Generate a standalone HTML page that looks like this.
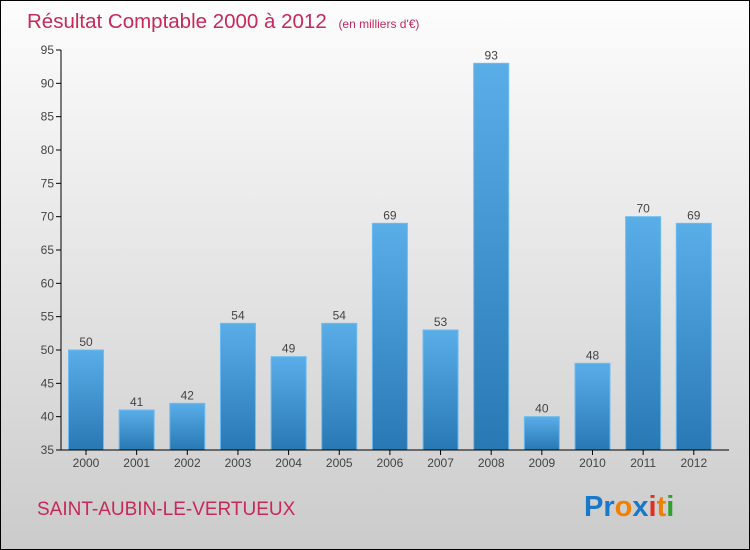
<!DOCTYPE html>
<html><head><meta charset="utf-8"><style>
body{margin:0}
#wrap{position:relative;width:748px;height:548px;border:1px solid #000;background:linear-gradient(#fdfdfd,#d8d8d8 75%,#cbcbcb);font-family:"DejaVu Sans","Liberation Sans",sans-serif;overflow:hidden}
</style></head><body>
<div id="wrap">
<svg width="748" height="548" id="svg">
<defs><linearGradient id="bg" x1="0" y1="0" x2="0" y2="1"><stop offset="0" stop-color="#5aaee8"/><stop offset="1" stop-color="#2878b4"/></linearGradient></defs>
<text x="26" y="27" font-size="20.5" fill="#c8285a" font-family="Liberation Sans, sans-serif">Résultat Comptable 2000 à 2012 <tspan font-size="12" dx="6">(en milliers d'€)</tspan></text>
<text x="36" y="514" font-size="19" fill="#c8285a" font-family="Liberation Sans, sans-serif">SAINT-AUBIN-LE-VERTUEUX</text>
<text x="583" y="515" font-size="29" font-weight="bold" font-family="Liberation Sans, sans-serif"><tspan fill="#1a78c8">Pr</tspan><tspan fill="#f08000">o</tspan><tspan fill="#1a78c8">x</tspan><tspan fill="#e03020">i</tspan><tspan fill="#f08000">t</tspan><tspan fill="#30a030">i</tspan></text>
<g id="g"></g>
</svg></div>
<script>
const years=["2000","2001","2002","2003","2004","2005","2006","2007","2008","2009","2010","2011","2012"];
const values=[50,41,42,54,49,54,69,53,93,40,48,70,69];
const yTicks=[35,40,45,50,55,60,65,70,75,80,85,90,95];
const g=document.getElementById('g');const NS='http://www.w3.org/2000/svg';
const y=v=>449-(v-35)*400/60;
const x=i=>85+i*50.65;
function mk(t,a){const e=document.createElementNS(NS,t);for(const k in a)e.setAttribute(k,a[k]);g.appendChild(e);return e;}
yTicks.forEach(t=>{
 const l=mk('line',{x1:55,x2:60,y1:y(t),y2:y(t),stroke:'#000'});
 
 
 const tx=mk('text',{x:53,y:y(t)+4,'font-size':12,fill:'#444','text-anchor':'end','font-family':'Liberation Sans, sans-serif'});tx.textContent=t;
 
 
});
values.forEach((v,i)=>{
 const r=mk('rect',{x:x(i)-17.5,y:y(v),width:35,height:y(35)-y(v),fill:'url(#bg)',stroke:'#6bbcf0','stroke-width':1});
 
 
 const t=mk('text',{x:x(i),y:y(v)-4,'font-size':12,fill:'#444','text-anchor':'middle','font-family':'Liberation Sans, sans-serif'});t.textContent=v;
 
 
 const k=mk('line',{x1:x(i),x2:x(i),y1:449,y2:454,stroke:'#000'});
 
 
 const yl=mk('text',{x:x(i),y:466,'font-size':12,fill:'#444','text-anchor':'middle','font-family':'Liberation Sans, sans-serif'});yl.textContent=years[i];
 
 
});
const ax=mk('line',{x1:60,x2:60,y1:49,y2:449,stroke:'#000'});


const bx=mk('line',{x1:60,x2:728,y1:449,y2:449,stroke:'#000'});


</script>
</body></html>
